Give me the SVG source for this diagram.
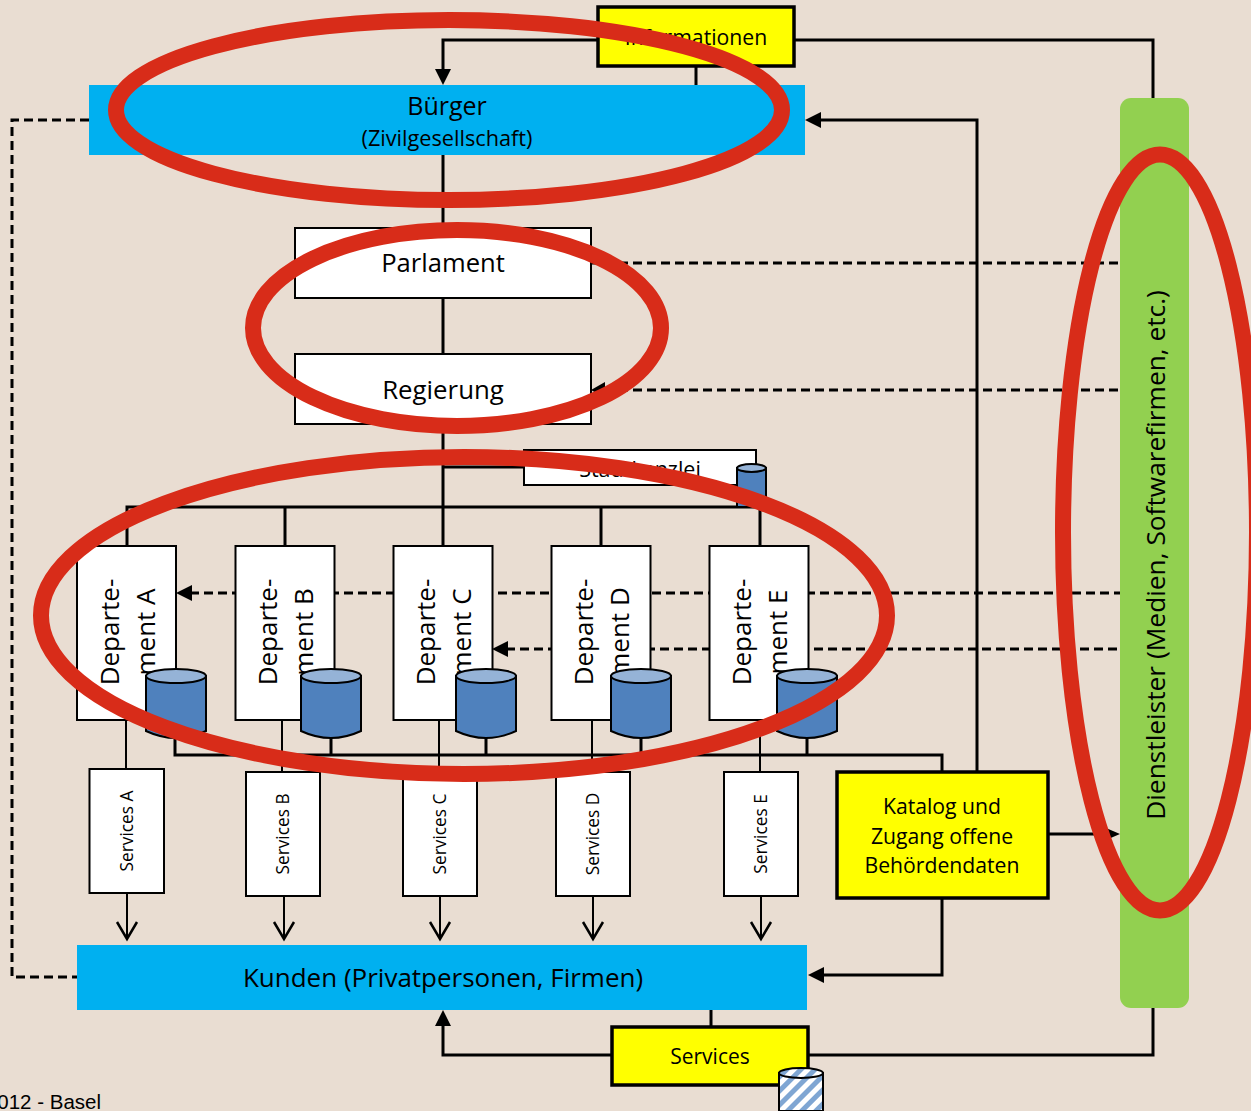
<svg xmlns="http://www.w3.org/2000/svg" width="1251" height="1111" viewBox="0 0 1251 1111">
<style>
text{font-family:"Open Sans","Noto Sans",sans-serif;fill:#000;text-anchor:middle}
.l{fill:none;stroke:#000;stroke-width:3}
.t{fill:none;stroke:#000;stroke-width:2}
.d{fill:none;stroke:#000;stroke-width:3;stroke-dasharray:9 5}
.w{fill:#fff;stroke:#000;stroke-width:2}
.y{fill:#ff0;stroke:#000;stroke-width:3.5}
.b{fill:#00b0f0}
.c{fill:#4f81bd;stroke:#000;stroke-width:2}
.ct{fill:#95b3d7;stroke:#000;stroke-width:2}
.r{fill:none;stroke:#d82c19;stroke-width:16}
.a{fill:#000}
</style>
<defs>
<pattern id="st" width="10" height="10" patternUnits="userSpaceOnUse" patternTransform="rotate(45)">
<rect width="10" height="10" fill="#fff"/><rect width="5" height="10" fill="#7fa6d3"/>
</pattern>
<marker id="o" markerUnits="userSpaceOnUse" markerWidth="22" markerHeight="24" refX="19" refY="12" orient="auto">
<path d="M2 2L19 12L2 22" fill="none" stroke="#000" stroke-width="2.5"/>
</marker>
</defs>
<rect width="1251" height="1111" fill="#e9ddd2"/>
<g id="connectors">
<path class="l" d="M597 40H443V72M795 40H1153V98M696 66V85M443 155V546M443 467H524M127 546V507H760V546M285 507V546M601 507V546M977 771V120H818M1048 834H1108M942 898V975H822M611 1055H443V1022M808 1055H1153V1008M711 1010V1027"/>
<path class="l" d="M175 738V755H942V771M331 738V755M486 738V755M641 738V755M807 738V755"/>
<path class="t" d="M126 720V769M282 720V772M439 720V772M592 720V772M760 720V772"/>
<path class="t" marker-end="url(#o)" d="M127 893V939"/>
<path class="t" marker-end="url(#o)" d="M284 896V939"/>
<path class="t" marker-end="url(#o)" d="M440 896V939"/>
<path class="t" marker-end="url(#o)" d="M593 896V939"/>
<path class="t" marker-end="url(#o)" d="M761 896V939"/>
<path class="d" d="M591 263H1120M605 390H1120M190 593H1120M506 649H1120M89 120H12V977H77"/>
<path class="a" d="M443 85L435 69H451ZM805 120L821 112V128ZM808 975L824 967V983ZM443 1010L435 1026H451ZM591 390L605 382V398ZM176 593L192 585V601ZM492 649L508 641V657ZM1120 834L1106 828V840Z"/>
</g>
<g id="buerger"><rect class="b" x="89" y="85" width="716" height="70"/>
<text x="447" y="115" font-size="25">Bürger</text><text x="447" y="146" font-size="21.700">(Zivilgesellschaft)</text></g>
<g id="informationen"><rect class="y" x="598" y="7" width="196" height="59"/><text x="696" y="45" font-size="21.200">Informationen</text></g>
<g id="parlament"><rect class="w" x="295" y="228" width="296" height="70"/><text x="443" y="272" font-size="25.600">Parlament</text></g>
<g id="regierung"><rect class="w" x="295" y="354" width="296" height="70"/><text x="443" y="399" font-size="25.800">Regierung</text></g>
<g id="stadtkanzlei"><rect class="w" x="524" y="450" width="232" height="35"/><text x="640" y="477" font-size="21.500">Stadtkanzlei</text>
<path class="c" d="M737 468V507H766V468Z"/><ellipse class="ct" cx="751.500" cy="468" rx="14.500" ry="4"/></g>
<g id="dep-a"><rect class="w" x="77" y="546" width="99" height="174"/><text transform="translate(119 632) rotate(-90)" font-size="26">Departe-</text><text transform="translate(155 632) rotate(-90)" font-size="26">ment A</text>
<path class="c" d="M146 676V731Q176 745 206 731V676Z"/><ellipse class="ct" cx="176" cy="676" rx="30" ry="7"/></g>
<g id="dep-b"><rect class="w" x="235.500" y="546" width="99" height="174"/><text transform="translate(277 632) rotate(-90)" font-size="26">Departe-</text><text transform="translate(313 632) rotate(-90)" font-size="26">ment B</text>
<path class="c" d="M301 676V731Q331 745 361 731V676Z"/><ellipse class="ct" cx="331" cy="676" rx="30" ry="7"/></g>
<g id="dep-c"><rect class="w" x="393.500" y="546" width="99" height="174"/><text transform="translate(435 632) rotate(-90)" font-size="26">Departe-</text><text transform="translate(471 632) rotate(-90)" font-size="26">ment C</text>
<path class="c" d="M456 676V731Q486 745 516 731V676Z"/><ellipse class="ct" cx="486" cy="676" rx="30" ry="7"/></g>
<g id="dep-d"><rect class="w" x="551.500" y="546" width="99" height="174"/><text transform="translate(593 632) rotate(-90)" font-size="26">Departe-</text><text transform="translate(629 632) rotate(-90)" font-size="26">ment D</text>
<path class="c" d="M611 676V731Q641 745 671 731V676Z"/><ellipse class="ct" cx="641" cy="676" rx="30" ry="7"/></g>
<g id="dep-e"><rect class="w" x="709.500" y="546" width="99" height="174"/><text transform="translate(751 632) rotate(-90)" font-size="26">Departe-</text><text transform="translate(787 632) rotate(-90)" font-size="26">ment E</text>
<path class="c" d="M777 676V731Q807 745 837 731V676Z"/><ellipse class="ct" cx="807" cy="676" rx="30" ry="7"/></g>
<g id="services-a"><rect class="w" x="89.500" y="769" width="74.500" height="124"/><text transform="translate(133 831) rotate(-90)" font-size="17.300">Services A</text></g>
<g id="services-b"><rect class="w" x="246" y="772" width="74" height="124"/><text transform="translate(289 834) rotate(-90)" font-size="17.300">Services B</text></g>
<g id="services-c"><rect class="w" x="403" y="772" width="74" height="124"/><text transform="translate(446 834) rotate(-90)" font-size="17.300">Services C</text></g>
<g id="services-d"><rect class="w" x="556" y="772" width="74" height="124"/><text transform="translate(599 834) rotate(-90)" font-size="17.300">Services D</text></g>
<g id="services-e"><rect class="w" x="724" y="772" width="74" height="124"/><text transform="translate(767 834) rotate(-90)" font-size="17.300">Services E</text></g>
<g id="katalog"><rect class="y" x="837" y="772" width="211" height="126"/>
<text x="942" y="814" font-size="21.200">Katalog und</text><text x="942" y="844" font-size="21.200">Zugang offene</text><text x="942" y="873" font-size="21.200">Behördendaten</text></g>
<g id="kunden"><rect class="b" x="77" y="945" width="730" height="65"/><text x="443" y="987" font-size="26">Kunden (Privatpersonen, Firmen)</text></g>
<g id="services"><rect class="y" x="612" y="1027" width="196" height="58"/><text x="710" y="1064" font-size="21">Services</text>
<path d="M779 1073V1111H823V1073Z" fill="url(#st)" stroke="#000" stroke-width="2"/><ellipse cx="801" cy="1073" rx="22" ry="5" fill="url(#st)" stroke="#000" stroke-width="2"/></g>
<g id="dienstleister"><rect x="1120" y="98" width="69" height="910" rx="11" fill="#92d050"/><text transform="translate(1165 555) rotate(-90)" font-size="26.300">Dienstleister (Medien, Softwarefirmen, etc.)</text></g>
<g id="marks">
<ellipse class="r" cx="449" cy="110" rx="333" ry="90"/>
<ellipse class="r" cx="457" cy="328" rx="204" ry="98"/>
<ellipse class="r" cx="464" cy="615.500" rx="423" ry="158.500"/>
<ellipse class="r" cx="1160" cy="532.500" rx="97" ry="378"/>
</g>
<text x="101" y="1109" font-size="20.500" style="font-family:'Liberation Sans',sans-serif;text-anchor:end">2012 - Basel</text>
</svg>
